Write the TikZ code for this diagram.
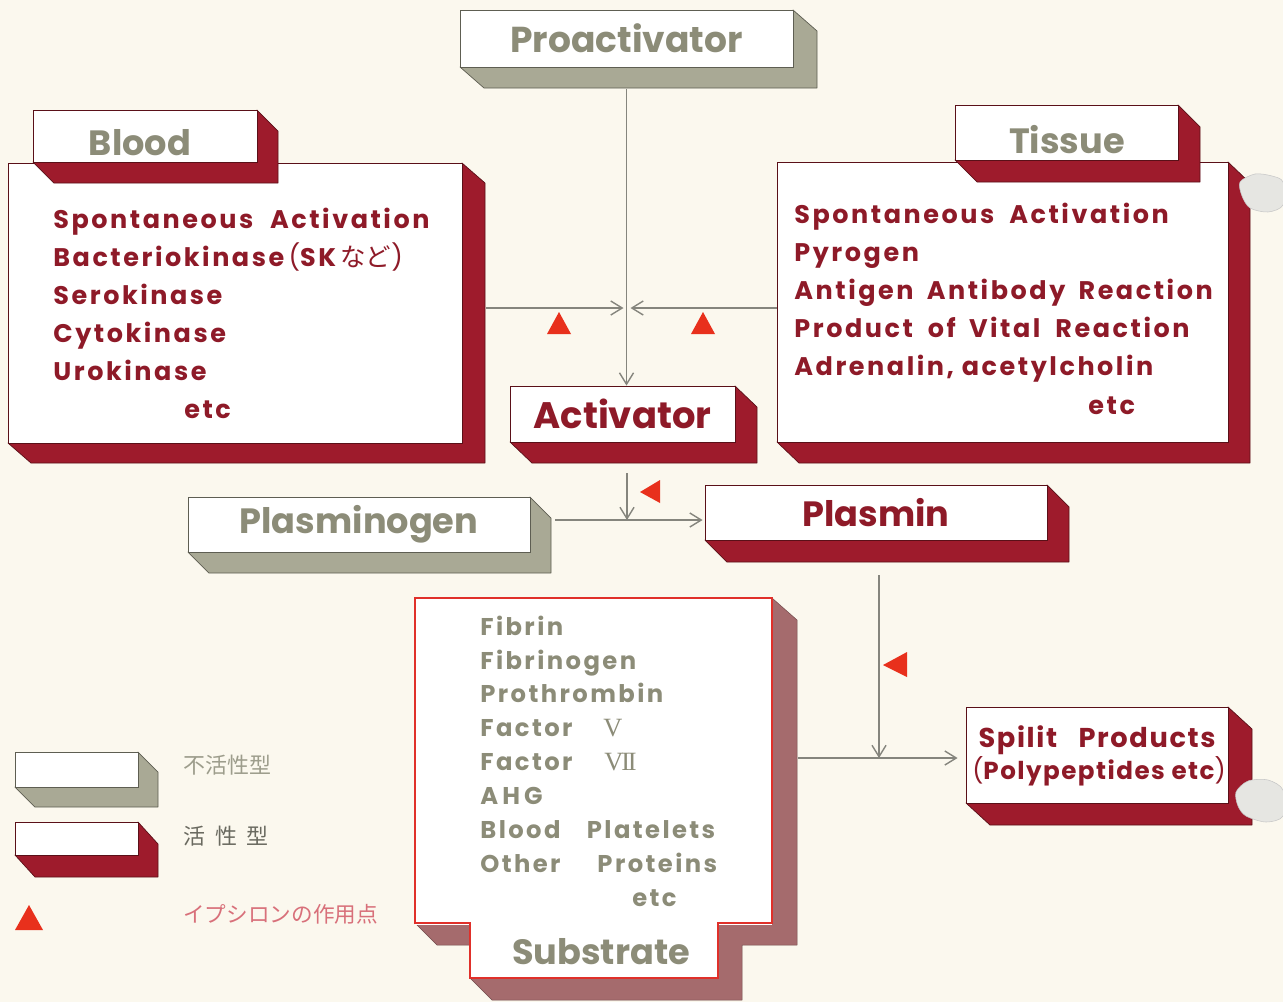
\documentclass[tikz,border=0pt]{standalone}
\usepackage{fontspec}
\setmainfont{Poppins}
\newfontfamily\lsA{Poppins}[LetterSpace=10]
\newfontfamily\lsB{Poppins}[LetterSpace=6]
\newfontfamily\cjk{Noto Sans CJK JP}
\newfontfamily\romfont{Liberation Serif}
\usetikzlibrary{arrows.meta,calc,fit}

\definecolor{bgc}{HTML}{FBF8EE}
\definecolor{dred}{HTML}{9E1B2C}
\definecolor{redtext}{HTML}{8E1A28}
\definecolor{rededge}{HTML}{5A1018}
\definecolor{gside}{HTML}{A9A995}
\definecolor{gedge}{HTML}{5E5E52}
\definecolor{graytext}{HTML}{8C8C78}
\definecolor{linec}{HTML}{85857D}
\definecolor{trired}{HTML}{E8301C}
\definecolor{subside}{HTML}{A56B6D}
\definecolor{subedge}{HTML}{E0302A}
\definecolor{pinktext}{HTML}{D8707A}
\definecolor{legdark}{HTML}{6A6A60}
\definecolor{blobc}{HTML}{E6E6E2}

\newcommand\fsz[1]{\fontsize{#1}{#1}\selectfont\bfseries}

\tikzset{
  sidegray/.style={fill=gside, draw=gedge, line width=0.4pt, line join=round},
  sidered/.style={fill=dred, draw=rededge, line width=0.4pt, line join=round},
  frontgray/.style={fill=white, draw=gedge, line width=0.5pt, inner sep=0pt},
  frontred/.style={fill=white, draw=rededge, line width=0.5pt, inner sep=0pt},
  labelgray/.style={inner sep=0pt, text=graytext},
  labelred/.style={inner sep=0pt, text=redtext},
  conn/.style={draw=linec, line width=0.8pt, -{Straight Barb[length=6.5pt,width=8pt,line width=0.8pt]}},
  redlist/.style={anchor=base west, inner sep=0pt, text=redtext, font={\lsA\fsz{14.5}}},
  graylist/.style={anchor=base west, inner sep=0pt, text=graytext, font={\lsA\fsz{13.8}}},
  romnum/.style={anchor=base west, inner sep=0pt, text=graytext, font={\romfont\fontsize{15}{15}\selectfont}},
  epsilon/.style={fill=trired},
  blob/.style={fill=blobc, draw=gray!45, line width=0.3pt},
}

% #1 name, #2 x0, #3 y0, #4 x1, #5 y1, #6 dx, #7 dy, #8 kind, #9 label
\newcommand\solid[9]{%
  \path[side#8] (#2,#5) -- (#2+#6,#5+#7) -- (#4+#6,#5+#7) -- (#4+#6,#3+#7) -- (#4,#3) -- (#4,#5) -- cycle;
  \node[front#8, fit={(#2,#3) (#4,#5)}] (#1) {};
  \node[label#8] (#1lbl) at (#1.center) {#9};
}

\begin{document}
\begin{tikzpicture}[x=0.02cm,y=-0.02cm]
\fill[bgc] (0,0) rectangle (1283,1002);
\useasboundingbox (0,0) rectangle (1283,1002);

% ---- Proactivator
\solid{proact}{460}{10}{793}{67}{24}{21}{gray}{\fsz{20.5}Proactivator}

% ---- Blood
\solid{bloodbox}{8}{163}{462}{443}{23}{20}{red}{}
\solid{bloodtab}{33}{110}{257}{162}{21}{21}{red}{}
\node[labelgray, font=\fsz{20}] (bloodlbl) at (140,143) {Blood};
\node[redlist] (b1) at (53,228) {Spontaneous\hspace{5pt} Activation};
\node[redlist] (b2) at (53,266) {Bacteriokinase\,{\mdseries(}SK\,{\cjk\mdseries など}{\mdseries)}};
\node[redlist] (b3) at (53,304) {Serokinase};
\node[redlist] (b4) at (53,342) {Cytokinase};
\node[redlist] (b5) at (53,380) {Urokinase};
\node[redlist] (b6) at (184,418) {etc};

% ---- Tissue
\solid{tissuebox}{777}{162}{1228}{442}{22}{21}{red}{}
\solid{tissuetab}{955}{105}{1178}{160}{22}{22}{red}{}
\node[labelgray, font=\fsz{20}] (tissuelbl) at (1067,140) {Tissue};
\node[redlist] (t1) at (794,223) {Spontaneous\hspace{4pt} Activation};
\node[redlist] (t2) at (794,261) {Pyrogen};
\node[redlist] (t3) at (794,299) {Antigen\hspace{3pt} Antibody\hspace{3pt} Reaction};
\node[redlist] (t4) at (794,337) {Product\hspace{4pt} of\hspace{3pt} Vital\hspace{4pt} Reaction};
\node[redlist] (t5) at (794,375) {Adrenalin, acetylcholin};
\node[redlist] (t6) at (1088,414) {etc};

% ---- Activator
\solid{act}{510}{386}{735}{442}{22}{21}{red}{\fsz{21}Activator}

% ---- Plasminogen / Plasmin
\solid{plg}{188}{497}{530}{552}{21}{21}{gray}{\fsz{20}Plasminogen}
\solid{plasmin}{705}{485}{1047}{540}{22}{22}{red}{\fsz{20}Plasmin}

% ---- Substrate
\path[fill=subside, draw=subside!70!black, line width=0.3pt, line join=round]
  (415,923) -- (437,945) -- (470,945) -- (470,978) -- (492,1000) -- (742,1000)
  -- (742,945) -- (797,945) -- (797,620) -- (772,598) -- (772,923) -- cycle;
\node[fill=white, inner sep=0pt, fit={(415,598) (772,925)}] (subs) {};
\node[fill=white, inner sep=0pt, fit={(470,922) (718,978)}] (subtab) {};
\node[labelgray, font=\fsz{20}] (subtablbl) at (601,952) {Substrate};
\draw[subedge, line width=0.7pt, line join=miter]
  (415,598) -- (772,598) -- (772,923) -- (718,923) -- (718,978) -- (470,978) -- (470,923) -- (415,923) -- cycle;
\node[graylist] (s1) at (480,635) {Fibrin};
\node[graylist] (s2) at (480,669) {Fibrinogen};
\node[graylist] (s3) at (480,702) {Prothrombin};
\node[graylist] (s4) at (480,736) {Factor};
\node[romnum] (s4v) at (603,736) {V};
\node[graylist] (s5) at (480,770) {Factor};
\node[romnum, font={\romfont\fontsize{15}{15}\selectfont\addfontfeatures{LetterSpace=-8}}] (s5v) at (604,770) {VII};
\node[graylist] (s6) at (480,804) {A\,H\,G};
\node[graylist] (s7) at (480,838) {Blood\hspace{15pt}Platelets};
\node[graylist] (s8) at (480,872) {Other\hspace{21pt}Proteins};
\node[graylist] (s9) at (632,906) {etc};

% ---- Spilit products
\solid{spilit}{966}{707}{1228}{803}{24}{22}{red}{}
\node[anchor=base, inner sep=0pt, text=redtext, font={\lsB\fsz{15.5}}] (sp1) at (1097,747) {Spilit\hspace{8pt} Products};
\node[anchor=base, inner sep=0pt, text=redtext, font={\lsB\fsz{14}}] (sp2) at (1099,779) {{\mdseries(}Polypeptides etc{\mdseries)}};

% ---- junctions
\coordinate (jA) at (626.5,308);
\coordinate (jB) at (627,520);
\coordinate (jC) at (879,758);

% ---- connectors
\draw[conn] ($(proact.south)+(0,22)$) -- (proact.south |- act.north);
\draw[conn] ($(bloodbox.east |- jA)+(24,0)$) -- ($(jA)+(-3,0)$);
\draw[conn] (tissuebox.west |- jA) -- ($(jA)+(4,0)$);
\draw[conn] ($(jB |- act.south)+(0,31)$) -- (jB);
\draw[conn] ($(plg.east |- jB)+(25,0)$) -- ($(plasmin.west |- jB)+(-2,0)$);
\draw[conn] ($(jC |- plasmin.south)+(0,35)$) -- (jC);
\draw[conn] ($(subs.east |- jC)+(26,0)$) -- ($(spilit.west |- jC)+(-8,0)$);

% ---- epsilon action points
\fill[epsilon] (547,334) -- (571,334) -- (559,312) -- cycle;
\fill[epsilon] (691,334) -- (715,334) -- (703,312) -- cycle;
\fill[epsilon] (640,492) -- (660,480) -- (660,503) -- cycle;
\fill[epsilon] (883,665) -- (907,652) -- (907,677) -- cycle;

% ---- paper damage at right edge
\path[blob] plot[smooth cycle] coordinates {(1240,182) (1255,174) (1272,176) (1283,182) (1283,205) (1268,212) (1250,208) (1242,196)};
\path[blob] plot[smooth cycle] coordinates {(1236,792) (1248,781) (1268,780) (1283,790) (1283,816) (1266,822) (1246,816) (1238,806)};

% ---- legend
\solid{leggray}{15}{752}{138}{787}{20}{20}{gray}{}
\solid{legred}{15}{822}{138}{855}{20}{22}{red}{}
\fill[epsilon] (15,930) -- (43,930) -- (29,905) -- cycle;
\node[anchor=west, inner sep=0pt, text=graytext!85, font=\cjk\fontsize{12.5}{12.5}\selectfont] (lg1) at (183,765) {不活性型};
\node[anchor=west, inner sep=0pt, text=legdark, font=\cjk\fontsize{12.5}{12.5}\selectfont] (lg2) at (183,836) {活\ \ 性\ \ 型};
\node[anchor=west, inner sep=0pt, text=pinktext, font=\cjk\fontsize{12.3}{12.3}\selectfont] (lg3) at (183,914) {イプシロンの作用点};
\end{tikzpicture}
\end{document}
